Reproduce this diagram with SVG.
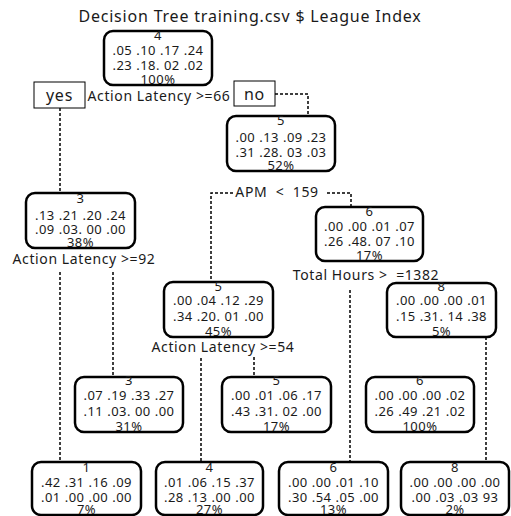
<svg xmlns="http://www.w3.org/2000/svg" width="511" height="516" viewBox="0 0 511 516">
<style>
.box{fill:#fff;stroke:#000;stroke-width:2.5}
.lbl{fill:#fff;stroke:#000;stroke-width:1}
text{font-family:"Noto Sans","Noto Sans CJK KR",sans-serif;fill:#1a1a1a;text-anchor:middle;white-space:pre}
.n{font-size:13px;letter-spacing:0.5px}
.t{font-size:16px;letter-spacing:0.8px}
.s{font-size:14px;letter-spacing:0.6px}
.c{fill:none;stroke:#000;stroke-width:1.5;stroke-dasharray:3 2}
</style>
<rect width="511" height="516" fill="#fff"/>
<text class="t" x="250" y="22">Decision Tree training.csv $ League Index</text>
<g id="connectors">
<path class="c" d="M60 108V194"/>
<path class="c" d="M275 94H308V116"/>
<path class="c" d="M233 193H211V282"/>
<path class="c" d="M327 193H351V207"/>
<path class="c" d="M60 272V462"/>
<path class="c" d="M113 272V377"/>
<path class="c" d="M201 358V462"/>
<path class="c" d="M254 357V377"/>
<path class="c" d="M350 290V462"/>
<path class="c" d="M486 337V462"/>
</g>
<g id="labels">
<rect class="lbl" x="34" y="82" width="51" height="26"/>
<text class="t" x="59.5" y="101">yes</text>
<rect class="lbl" x="234" y="81" width="41" height="25"/>
<text class="t" x="254.5" y="100">no</text>
<text class="s" x="159" y="101">Action Latency &gt;=66</text>
<text class="s" x="277" y="197">APM  &lt;  159</text>
<text class="s" x="84" y="264">Action Latency &gt;=92</text>
<text class="s" x="223" y="352">Action Latency &gt;=54</text>
<text class="s" x="366" y="280">Total Hours &gt;  =1382</text>
</g>
<g id="n_root">
<rect class="box" x="104" y="31" width="108" height="54" rx="9"/>
<text class="n" x="158" y="40">4</text>
<text class="n" x="158" y="55">.05 .10 .17 .24</text>
<text class="n" x="158" y="70">.23 .18. 02 .02</text>
<text class="n" x="158" y="84">100%</text>
</g>
<g id="n_5a">
<rect class="box" x="227" y="116" width="108" height="55" rx="9"/>
<text class="n" x="281" y="125">5</text>
<text class="n" x="281" y="142">.00 .13 .09 .23</text>
<text class="n" x="281" y="157">.31 .28. 03 .03</text>
<text class="n" x="281" y="170">52%</text>
</g>
<g id="n_3a">
<rect class="box" x="26" y="193" width="109" height="55" rx="9"/>
<text class="n" x="80.5" y="203">3</text>
<text class="n" x="80.5" y="220">.13 .21 .20 .24</text>
<text class="n" x="80.5" y="234">.09 .03. 00 .00</text>
<text class="n" x="80.5" y="247">38%</text>
</g>
<g id="n_6a">
<rect class="box" x="316" y="207" width="107" height="54" rx="9"/>
<text class="n" x="369.5" y="216">6</text>
<text class="n" x="369.5" y="231">.00 .00 .01 .07</text>
<text class="n" x="369.5" y="246">.26 .48. 07 .10</text>
<text class="n" x="369.5" y="260">17%</text>
</g>
<g id="n_5b">
<rect class="box" x="164" y="282" width="109" height="55" rx="9"/>
<text class="n" x="218.5" y="291">5</text>
<text class="n" x="218.5" y="305">.00 .04 .12 .29</text>
<text class="n" x="218.5" y="321">.34 .20. 01 .00</text>
<text class="n" x="218.5" y="336">45%</text>
</g>
<g id="n_8a">
<rect class="box" x="387" y="283" width="109" height="54" rx="9"/>
<text class="n" x="441.5" y="291">8</text>
<text class="n" x="441.5" y="305">.00 .00 .00 .01</text>
<text class="n" x="441.5" y="321">.15 .31. 14 .38</text>
<text class="n" x="441.5" y="336">5%</text>
</g>
<g id="n_3b">
<rect class="box" x="75" y="377" width="108" height="55" rx="9"/>
<text class="n" x="129" y="385">3</text>
<text class="n" x="129" y="400">.07 .19 .33 .27</text>
<text class="n" x="129" y="416">.11 .03. 00 .00</text>
<text class="n" x="129" y="431">31%</text>
</g>
<g id="n_5c">
<rect class="box" x="222" y="377" width="109" height="55" rx="9"/>
<text class="n" x="276.5" y="385">5</text>
<text class="n" x="276.5" y="400">.00 .01 .06 .17</text>
<text class="n" x="276.5" y="416">.43 .31. 02 .00</text>
<text class="n" x="276.5" y="431">17%</text>
</g>
<g id="n_6b">
<rect class="box" x="366" y="377" width="108" height="55" rx="9"/>
<text class="n" x="420" y="385">6</text>
<text class="n" x="420" y="400">.00 .00 .00 .02</text>
<text class="n" x="420" y="416">.26 .49 .21 .02</text>
<text class="n" x="420" y="431">100%</text>
</g>
<g id="n_1">
<rect class="box" x="32" y="462" width="109" height="53" rx="9"/>
<text class="n" x="86.5" y="472">1</text>
<text class="n" x="86.5" y="487">.42 .31 .16 .09</text>
<text class="n" x="86.5" y="502">.01 .00 .00 .00</text>
<text class="n" x="86.5" y="514">7%</text>
</g>
<g id="n_4">
<rect class="box" x="156" y="462" width="107" height="53" rx="9"/>
<text class="n" x="209.5" y="472">4</text>
<text class="n" x="209.5" y="487">.01 .06 .15 .37</text>
<text class="n" x="209.5" y="502">.28 .13 .00 .00</text>
<text class="n" x="209.5" y="514">27%</text>
</g>
<g id="n_6c">
<rect class="box" x="279" y="462" width="109" height="53" rx="9"/>
<text class="n" x="333.5" y="472">6</text>
<text class="n" x="333.5" y="487">.00 .00 .01 .10</text>
<text class="n" x="333.5" y="502">.30 .54 .05 .00</text>
<text class="n" x="333.5" y="514">13%</text>
</g>
<g id="n_8b">
<rect class="box" x="401" y="462" width="108" height="53" rx="9"/>
<text class="n" x="455" y="472">8</text>
<text class="n" x="455" y="487">.00 .00 .00 .00</text>
<text class="n" x="455" y="502">.00 .03 .03 93</text>
<text class="n" x="455" y="514">2%</text>
</g>
</svg>
